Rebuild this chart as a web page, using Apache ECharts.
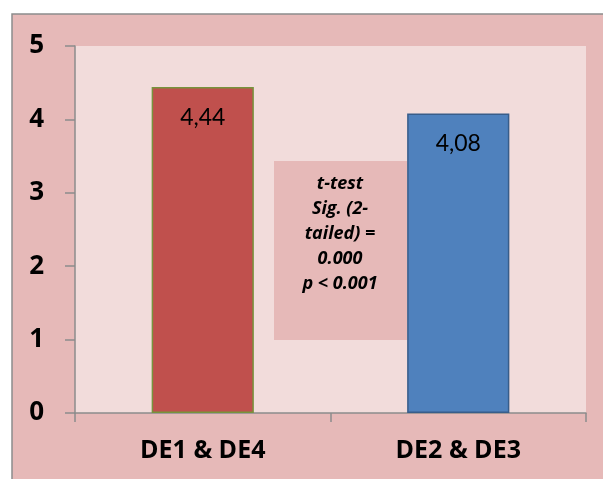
<!DOCTYPE html>
<html>
<head>
<meta charset="utf-8">
<script src="https://cdn.jsdelivr.net/npm/echarts@6/dist/echarts.min.js"></script>
<style>
  html, body { margin: 0; padding: 0; background: #ffffff; }
  #chart { width: 603px; height: 479px; }
</style>
</head>
<body>
<div id="chart"></div>
<script>
// Mean scores for the two grouped dimensions
const categories = ['DE1 & DE4', 'DE2 & DE3'];
const values = [4.44, 4.08];
const barColors = ['#c0504d', '#4f81bd'];
const barBorders = ['#77933c', '#385d8a'];
const yTicks = [0, 1, 2, 3, 4, 5];
const noteLines = ['t-test', 'Sig. (2-', 'tailed) =', '0.000', 'p < 0.001'];

const BOLD_FONT = '"Open Sans", sans-serif';

const chart = echarts.init(document.getElementById('chart'));

const option = {
  backgroundColor: '#ffffff',
  animation: false,
  grid: {
    left: 75, top: 46, right: 17, bottom: 66,
    show: true, backgroundColor: '#f2dcdb', borderWidth: 0
  },
  xAxis: {
    type: 'category',
    data: categories,
    axisLine: { lineStyle: { color: '#8c8c8c', width: 1.5 } },
    axisTick: { show: true, alignWithLabel: false, length: 9, lineStyle: { color: '#8c8c8c', width: 1.5 } },
    axisLabel: { color: '#000', fontFamily: BOLD_FONT, fontWeight: 700, fontSize: 25, margin: 25 }
  },
  yAxis: {
    type: 'value',
    min: yTicks[0],
    max: yTicks[yTicks.length - 1],
    interval: 1,
    splitLine: { show: false },
    axisLine: { show: true, lineStyle: { color: '#8c8c8c', width: 1.5 } },
    axisTick: { show: true, length: 10, lineStyle: { color: '#8c8c8c', width: 1.5 } },
    axisLabel: { color: '#000', fontFamily: BOLD_FONT, fontWeight: 700, fontSize: 26, margin: 31 }
  },
  series: [{
    type: 'bar',
    barWidth: '40%',
    data: values.map((v, i) => ({
      value: v,
      itemStyle: { color: barColors[i], borderColor: barBorders[i], borderWidth: 1.5 }
    })),
    label: {
      show: true,
      position: 'insideTop',
      distance: 19,
      color: '#000',
      fontFamily: 'Lato',
      fontSize: 23,
      formatter: p => p.value.toFixed(2).replace('.', ',')
    }
  }],
  graphic: [
    {
      type: 'rect',
      z: -10,
      shape: { x: 12, y: 14, width: 600, height: 470 },
      style: { fill: '#e6b9b8', stroke: '#8c8c8c', lineWidth: 1.5 }
    },
    {
      type: 'group',
      left: 274, top: 161,
      z: 100,
      children: [
        {
          type: 'rect',
          shape: { x: 0, y: 0, width: 133, height: 179 },
          style: { fill: '#e6b9b8' }
        },
        {
          type: 'text',
          x: 66, y: 10,
          style: {
            text: noteLines.join('\n'),
            fill: '#000',
            fontFamily: BOLD_FONT,
            fontStyle: 'italic',
            fontWeight: 700,
            fontSize: 18,
            align: 'center',
            lineHeight: 25
          }
        }
      ]
    }
  ]
};

chart.setOption(option);
</script>
</body>
</html>
